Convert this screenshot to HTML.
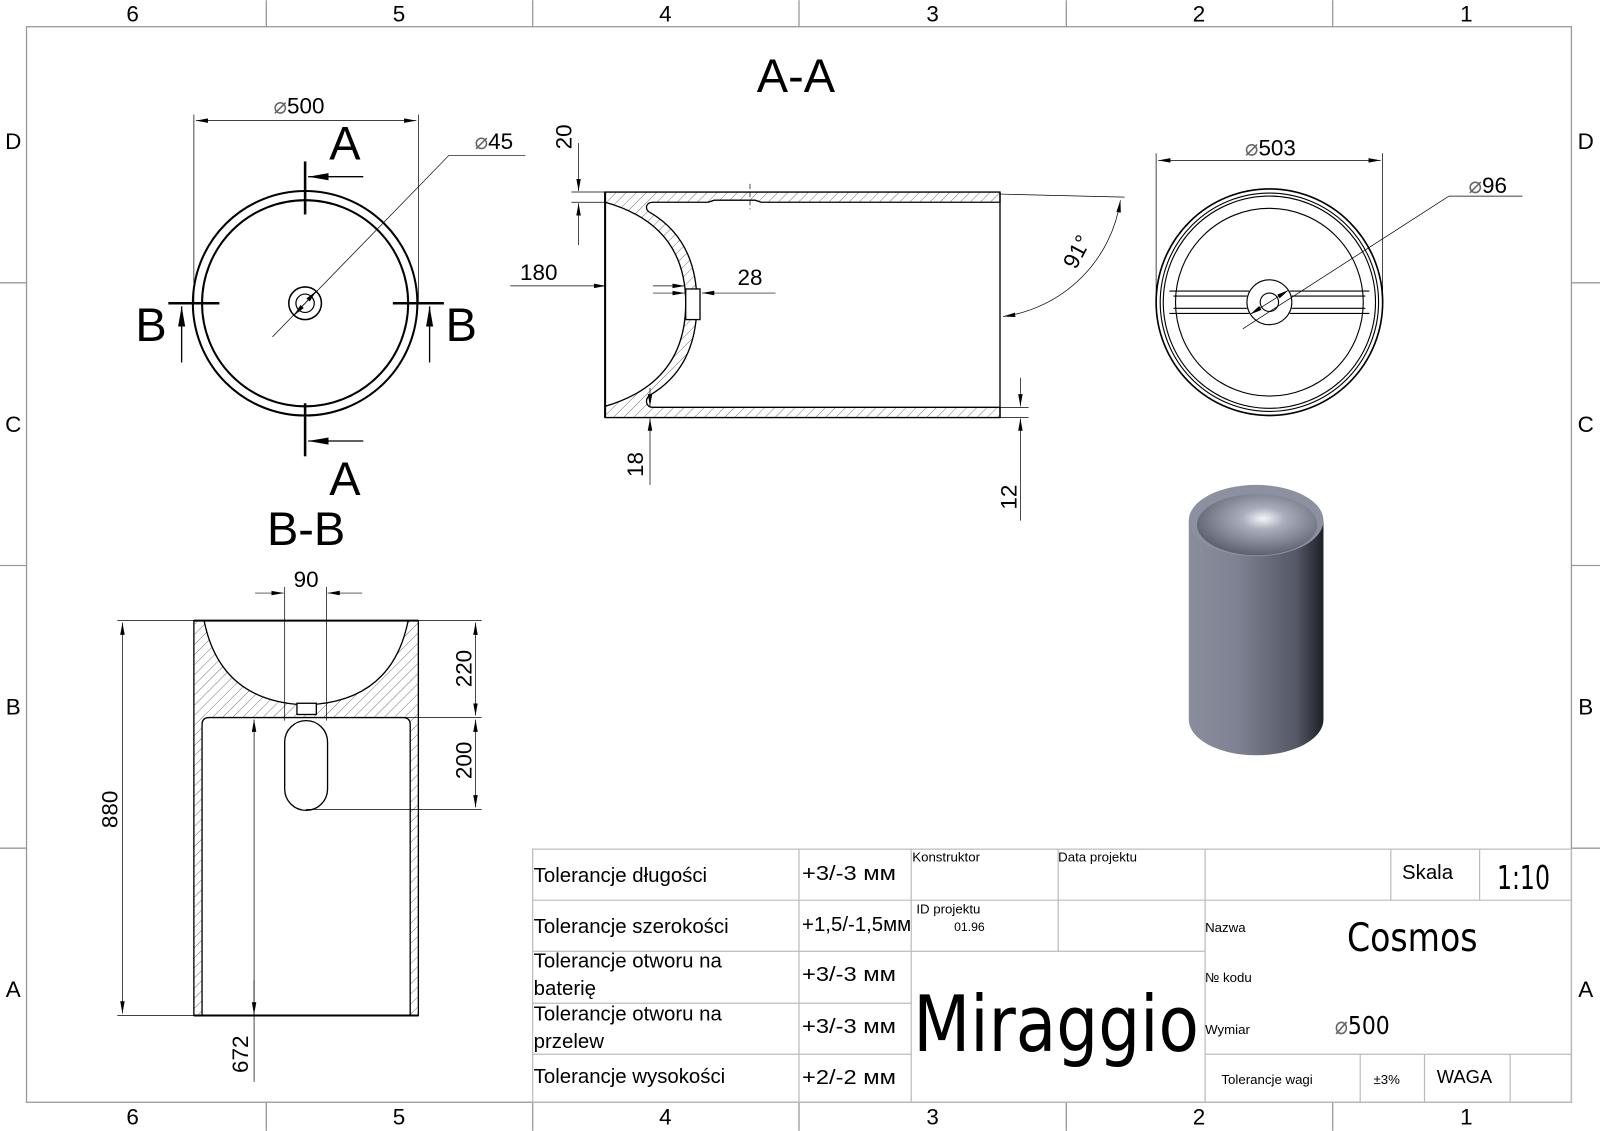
<!DOCTYPE html>
<html><head><meta charset="utf-8"><style>
html,body{margin:0;padding:0;background:#fff}
svg{display:block}
text{font-family:"Liberation Sans",sans-serif;fill:#000}
</style></head><body>
<svg width="1600" height="1131" viewBox="0 0 1568 1108" xmlns="http://www.w3.org/2000/svg">
<defs>
<pattern id="h" width="7" height="7" patternUnits="userSpaceOnUse" patternTransform="rotate(45)">
<line x1="0" y1="0" x2="0" y2="7" stroke="#555" stroke-width="0.8"/></pattern>
<marker id="a" viewBox="0 0 12 6" refX="12" refY="3" markerUnits="userSpaceOnUse" markerWidth="12" markerHeight="6" orient="auto-start-reverse"><path d="M0,0.8 L12,3 L0,5.2 z" fill="#000"/></marker>
<marker id="b" viewBox="0 0 20 8" refX="20" refY="4" markerUnits="userSpaceOnUse" markerWidth="20" markerHeight="8" orient="auto-start-reverse"><path d="M0,0.5 L20,4 L0,7.5 z" fill="#000"/></marker>
<linearGradient id="cyl" x1="0" x2="1" y1="0" y2="0"><stop offset="0" stop-color="#8a8e9c"/><stop offset="0.35" stop-color="#7e8292"/><stop offset="0.8" stop-color="#555966"/><stop offset="1" stop-color="#1e1f26"/></linearGradient>
<radialGradient id="bowl" cx="0.55" cy="0.4" r="0.6"><stop offset="0" stop-color="#f4f6fb"/><stop offset="0.3" stop-color="#a9adbc"/><stop offset="1" stop-color="#5e6170"/></radialGradient>
</defs>

<!-- frame -->
<g stroke="#9a9a9a" stroke-width="1.3" fill="none">
<rect x="26" y="26" width="1514" height="1054"/>
<line x1="261" y1="0" x2="261" y2="26"/><line x1="522" y1="0" x2="522" y2="26"/><line x1="783" y1="0" x2="783" y2="26"/><line x1="1045" y1="0" x2="1045" y2="26"/><line x1="1306" y1="0" x2="1306" y2="26"/>
<line x1="261" y1="1080" x2="261" y2="1108"/><line x1="522" y1="1080" x2="522" y2="1108"/><line x1="783" y1="1080" x2="783" y2="1108"/><line x1="1045" y1="1080" x2="1045" y2="1108"/><line x1="1306" y1="1080" x2="1306" y2="1108"/>
<line x1="0" y1="277" x2="26" y2="277"/><line x1="0" y1="554" x2="26" y2="554"/><line x1="0" y1="831" x2="26" y2="831"/>
<line x1="1540" y1="277" x2="1568" y2="277"/><line x1="1540" y1="554" x2="1568" y2="554"/><line x1="1540" y1="831" x2="1568" y2="831"/>
</g>
<g font-size="22" text-anchor="middle">
<text x="130" y="21">6</text><text x="391" y="21">5</text><text x="652" y="21">4</text><text x="914" y="21">3</text><text x="1175" y="21">2</text><text x="1437" y="21">1</text>
<text x="130" y="1102">6</text><text x="391" y="1102">5</text><text x="652" y="1102">4</text><text x="914" y="1102">3</text><text x="1175" y="1102">2</text><text x="1437" y="1102">1</text>
<text x="13" y="146">D</text><text x="13" y="423">C</text><text x="13" y="700">B</text><text x="13" y="977">A</text>
<text x="1554" y="146">D</text><text x="1554" y="423">C</text><text x="1554" y="700">B</text><text x="1554" y="977">A</text>
</g>

<!-- top-left view -->
<g fill="none" stroke="#000">
<circle cx="299" cy="297" r="110" stroke-width="2"/>
<circle cx="299" cy="297" r="101" stroke-width="2"/>
<circle cx="299" cy="297" r="16" stroke-width="1.5"/>
<circle cx="299" cy="297" r="9" stroke-width="1.2"/>
<g stroke-width="0.7"><line x1="190" y1="112" x2="190" y2="297"/><line x1="410" y1="112" x2="410" y2="297"/>
<line x1="192" y1="118" x2="408" y2="118" marker-start="url(#a)" marker-end="url(#a)"/>
<polyline points="267,330 440,152 515,152"/><line x1="299" y1="297" x2="310" y2="285" marker-end="url(#a)"/><line x1="299" y1="297" x2="288" y2="309" marker-end="url(#a)"/></g>
<g stroke-width="2.5"><line x1="299" y1="158" x2="299" y2="210"/><line x1="299" y1="395" x2="299" y2="447"/>
<line x1="165" y1="297" x2="215" y2="297"/><line x1="385" y1="297" x2="435" y2="297"/></g>
<g stroke-width="1.3"><line x1="356" y1="173" x2="302" y2="173" marker-end="url(#b)"/><line x1="356" y1="432" x2="302" y2="432" marker-end="url(#b)"/>
<line x1="178" y1="355" x2="178" y2="300" marker-end="url(#b)"/><line x1="421" y1="355" x2="421" y2="300" marker-end="url(#b)"/></g>
</g>
<text x="293" y="111" font-size="22" text-anchor="middle"><tspan fill="#666">⌀</tspan>500</text>
<text x="484" y="146" font-size="22" text-anchor="middle"><tspan fill="#666">⌀</tspan>45</text>
<g font-size="46" text-anchor="middle"><text x="338" y="156">A</text><text x="338" y="485">A</text><text x="148" y="334">B</text><text x="452" y="334">B</text>
<text x="300" y="534">B-B</text><text x="780" y="90">A-A</text></g>

<!-- A-A section -->
<g stroke="#000" stroke-width="1.3">
<path d="M593,188 H980 V198 H746 L740,196 H700 L694,198 H640 C632,198 632,206 637,208 Q683,235 683,297 Q683,360 637,387 C632,390 632,399 640,399 H980 V409 H593 Z M593,198 Q672,220 672,297 Q672,375 593,398 Z" fill="url(#h)" fill-rule="evenodd"/>
<line x1="593" y1="188" x2="593" y2="409" stroke-width="2"/>
<line x1="980" y1="188" x2="980" y2="409"/>
<rect x="672" y="283" width="14" height="30" fill="#fff"/>
</g>
<g stroke="#000" stroke-width="0.7" fill="none">
<line x1="735" y1="180" x2="735" y2="205" stroke-dasharray="5,3"/>
<line x1="560" y1="188" x2="593" y2="188"/><line x1="560" y1="198" x2="593" y2="198"/>
<line x1="567" y1="140" x2="567" y2="187" marker-end="url(#a)"/><line x1="567" y1="240" x2="567" y2="199" marker-end="url(#a)"/>
<line x1="500" y1="280" x2="594" y2="280" marker-end="url(#a)"/><line x1="640" y1="280" x2="671" y2="280" marker-end="url(#a)"/>
<line x1="640" y1="287" x2="671" y2="287" marker-end="url(#a)"/><line x1="760" y1="287" x2="688" y2="287" marker-end="url(#a)"/>
<line x1="637" y1="475" x2="637" y2="410" marker-end="url(#a)"/><line x1="637" y1="380" x2="637" y2="398" marker-end="url(#a)"/>
<line x1="980" y1="399" x2="1008" y2="399"/><line x1="980" y1="409" x2="1008" y2="409"/>
<line x1="1000" y1="370" x2="1000" y2="398" marker-end="url(#a)"/><line x1="1000" y1="510" x2="1000" y2="410" marker-end="url(#a)"/>
<line x1="980" y1="190" x2="1102" y2="193"/>
<path d="M983,310 A135,135 0 0 0 1098,196" marker-start="url(#a)" marker-end="url(#a)"/>
</g>
<g font-size="22" text-anchor="middle">
<text x="0" y="0" transform="translate(560,134) rotate(-90)">20</text>
<text x="528" y="274">180</text><text x="735" y="279">28</text>
<text transform="translate(630,455) rotate(-90)">18</text>
<text transform="translate(996,487) rotate(-90)">12</text>
<text transform="translate(1062,250) rotate(-62)">91°</text>
</g>

<!-- right top view -->
<g fill="none" stroke="#000" stroke-width="1.1">
<circle cx="1244" cy="296" r="111" stroke-width="1.6"/>
<circle cx="1244" cy="296" r="107"/><circle cx="1244" cy="296" r="104"/>
<circle cx="1244" cy="296" r="92"/>
<path d="M1146,285 H1224 M1146,307 H1224 M1264,285 H1342 M1264,307 H1342 M1150,290 H1222 M1150,302 H1222 M1266,290 H1338 M1266,302 H1338"/>
<circle cx="1244" cy="296" r="22" fill="#fff"/><circle cx="1244" cy="296" r="9"/>
<g stroke-width="0.7"><line x1="1133" y1="150" x2="1133" y2="296"/><line x1="1355" y1="150" x2="1355" y2="296"/>
<line x1="1135" y1="157" x2="1353" y2="157" marker-start="url(#a)" marker-end="url(#a)"/>
<polyline points="1218,322 1420,192 1492,192"/>
<line x1="1244" y1="296" x2="1263" y2="284" marker-end="url(#a)"/><line x1="1244" y1="296" x2="1225" y2="308" marker-end="url(#a)"/></g>
</g>
<text x="1245" y="152" font-size="22" text-anchor="middle"><tspan fill="#666">⌀</tspan>503</text>
<text x="1458" y="189" font-size="22" text-anchor="middle"><tspan fill="#666">⌀</tspan>96</text>

<!-- 3D -->
<path d="M1165,510 V705 A66,35 0 0 0 1297,705 V510 Z" fill="url(#cyl)"/>
<ellipse cx="1231" cy="510" rx="66" ry="35" fill="#8c90a0"/>
<ellipse cx="1232" cy="514" rx="59" ry="30" fill="url(#bowl)"/>

<!-- B-B -->
<g stroke="#000" stroke-width="1.3">
<path d="M190,608 H410 V995 H402 V710 Q402,703 395,703 H205 Q198,703 198,710 V995 H190 Z M200,608 Q215,683 290,690 L310,690 Q385,683 400,608 Z" fill="url(#h)" fill-rule="evenodd"/>
<line x1="190" y1="608" x2="410" y2="608" stroke-width="2"/>
<line x1="190" y1="995" x2="410" y2="995" stroke-width="2"/>
<rect x="291" y="689" width="19" height="11" fill="#fff"/>
<rect x="279" y="706" width="42" height="88" rx="21" fill="#fff"/>
</g>
<g stroke="#000" stroke-width="0.7" fill="none">
<line x1="279" y1="575" x2="279" y2="706"/><line x1="320" y1="575" x2="320" y2="706"/>
<line x1="250" y1="581" x2="278" y2="581" marker-end="url(#a)"/><line x1="355" y1="581" x2="321" y2="581" marker-end="url(#a)"/>
<line x1="115" y1="608" x2="190" y2="608"/><line x1="115" y1="995" x2="190" y2="995"/>
<line x1="120" y1="610" x2="120" y2="993" marker-start="url(#a)" marker-end="url(#a)"/>
<line x1="249" y1="1060" x2="249" y2="705" marker-end="url(#a)"/><line x1="249" y1="960" x2="249" y2="994" marker-end="url(#a)"/>
<line x1="410" y1="608" x2="472" y2="608"/><line x1="320" y1="703" x2="472" y2="703"/><line x1="300" y1="793" x2="472" y2="793"/>
<line x1="466" y1="610" x2="466" y2="701" marker-start="url(#a)" marker-end="url(#a)"/>
<line x1="466" y1="705" x2="466" y2="791" marker-start="url(#a)" marker-end="url(#a)"/>
</g>
<g font-size="22" text-anchor="middle">
<text x="300" y="575">90</text>
<text transform="translate(115,793) rotate(-90)">880</text>
<text transform="translate(243,1033) rotate(-90)">672</text>
<text transform="translate(462,655) rotate(-90)">220</text>
<text transform="translate(462,745) rotate(-90)">200</text>
</g>

<!-- title block -->
<g stroke="#bbb" stroke-width="1.2" fill="none">
<rect x="522" y="832" width="1018" height="248"/>
<line x1="522" y1="882" x2="1181" y2="882"/><line x1="522" y1="932" x2="1181" y2="932"/>
<line x1="522" y1="983" x2="893" y2="983"/><line x1="522" y1="1033" x2="893" y2="1033"/>
<line x1="1181" y1="882" x2="1540" y2="882"/><line x1="1181" y1="1033" x2="1540" y2="1033"/>
<line x1="783" y1="832" x2="783" y2="1080"/><line x1="893" y1="832" x2="893" y2="1080"/>
<line x1="1037" y1="832" x2="1037" y2="932"/><line x1="1181" y1="832" x2="1181" y2="1080"/>
<line x1="1363" y1="832" x2="1363" y2="882"/><line x1="1450" y1="832" x2="1450" y2="882"/>
<line x1="1333" y1="1033" x2="1333" y2="1080"/><line x1="1396" y1="1033" x2="1396" y2="1080"/><line x1="1480" y1="1033" x2="1480" y2="1080"/>
</g>
<g font-size="20">
<text x="523" y="864">Tolerancje długości</text>
<text x="523" y="914">Tolerancje szerokości</text>
<text x="523" y="948">Tolerancje otworu na</text><text x="523" y="975">baterię</text>
<text x="523" y="1000">Tolerancje otworu na</text><text x="523" y="1027">przelew</text>
<text x="523" y="1061">Tolerancje wysokości</text>
</g>
<g font-size="20" style="font-family:'DejaVu Sans',sans-serif">
<text x="786" y="862" textLength="92" lengthAdjust="spacingAndGlyphs">+3/-3 мм</text>
<text x="786" y="912" textLength="107" lengthAdjust="spacingAndGlyphs">+1,5/-1,5мм</text>
<text x="786" y="961" textLength="92" lengthAdjust="spacingAndGlyphs">+3/-3 мм</text>
<text x="786" y="1012" textLength="92" lengthAdjust="spacingAndGlyphs">+3/-3 мм</text>
<text x="786" y="1062" textLength="92" lengthAdjust="spacingAndGlyphs">+2/-2 мм</text>
</g>
<g font-size="13">
<text x="894" y="844">Konstruktor</text><text x="1037" y="844">Data projektu</text>
<text x="898" y="895">ID projektu</text><text x="935" y="912" font-size="12">01.96</text>
<text x="1181" y="913">Nazwa</text><text x="1181" y="962">№ kodu</text><text x="1181" y="1013">Wymiar</text>
<text x="1197" y="1062">Tolerancje wagi</text><text x="1346" y="1062">±3%</text>
</g>
<text x="1374" y="861" font-size="20">Skala</text>
<text x="1467" y="871" font-size="32" textLength="52" lengthAdjust="spacingAndGlyphs" style="font-family:'DejaVu Sans',sans-serif">1:10</text>
<text x="1320" y="932" font-size="38" textLength="128" lengthAdjust="spacingAndGlyphs" style="font-family:'DejaVu Sans',sans-serif">Cosmos</text>
<text x="1308" y="1013" font-size="24" textLength="54" lengthAdjust="spacingAndGlyphs" style="font-family:'DejaVu Sans',sans-serif"><tspan fill="#666">⌀</tspan>500</text>
<text x="1408" y="1061" font-size="18">WAGA</text>
<text x="895" y="1030" font-size="76" textLength="280" lengthAdjust="spacingAndGlyphs" style="font-family:'DejaVu Sans',sans-serif">Miraggio</text>
</svg>
</body></html>
